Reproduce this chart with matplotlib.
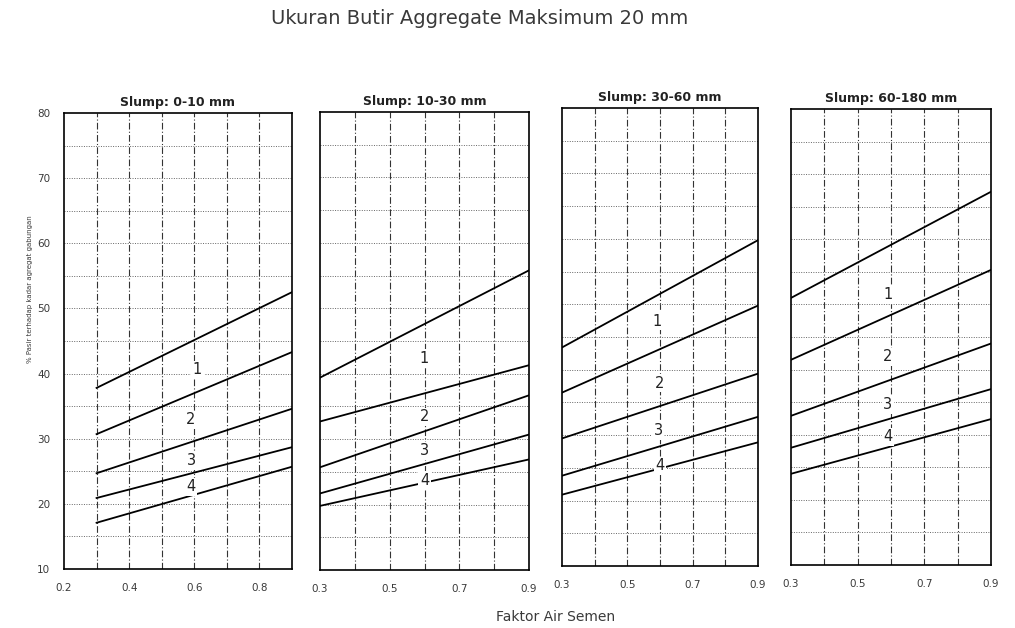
import matplotlib
matplotlib.use('Agg')
import matplotlib.pyplot as plt
import numpy as np

# panels: slump classes
titles = ['Slump: 0-10 mm', 'Slump: 10-30 mm', 'Slump: 30-60 mm', 'Slump: 60-180 mm']
x_min = [0.2, 0.3, 0.3, 0.3]
x_ticks = [[0.2, 0.4, 0.6, 0.8], [0.3, 0.5, 0.7, 0.9], [0.3, 0.5, 0.7, 0.9], [0.3, 0.5, 0.7, 0.9]]

# curves go from w/c = 0.3 to w/c = 0.9
fas = [0.3, 0.9]

# % sand at fas 0.3 and 0.9, five boundary curves per panel (top to bottom)
p1 = [[37.8, 52.5], [30.7, 43.3], [24.7, 34.6], [20.9, 28.7], [17.1, 25.7]]
p2 = [[39.4, 55.8], [32.7, 41.3], [25.7, 36.7], [21.7, 30.7], [19.8, 26.9]]
p3 = [[43.4, 59.8], [36.5, 49.8], [29.5, 39.4], [23.8, 32.8], [20.9, 28.9]]
p4 = [[51.0, 67.3], [41.5, 55.3], [32.9, 44.0], [28.0, 37.0], [24.0, 32.4]]
curves = [p1, p2, p3, p4]

# zone numbers (x, y)
zone_names = ['1', '2', '3', '4']
zones1 = [(0.61, 40.6), (0.59, 32.9), (0.59, 26.6), (0.59, 22.6)]
zones2 = [(0.60, 42.4), (0.60, 33.4), (0.60, 28.2), (0.60, 23.7)]
zones3 = [(0.59, 47.4), (0.60, 37.9), (0.595, 30.7), (0.60, 25.3)]
zones4 = [(0.59, 51.5), (0.59, 42.0), (0.59, 34.6), (0.59, 29.7)]
zones = [zones1, zones2, zones3, zones4]

rects = [
    [64 / 1015, 59 / 628, 228 / 1015, 456 / 628],
    [320 / 1015, 58 / 628, 209 / 1015, 458 / 628],
    [562 / 1015, 62 / 628, 196 / 1015, 458 / 628],
    [791 / 1015, 63 / 628, 200 / 1015, 456 / 628],
]

fig = plt.figure(figsize=(10.15, 6.28), dpi=100)
txt = '#3a3a3a'

for i in range(4):
    ax = fig.add_axes(rects[i])
    ax.set_xlim(x_min[i], 0.9)
    ax.set_ylim(10, 80)

    # grid: dash-dot verticals every 0.1, dotted horizontals every 5
    xv = np.arange(x_min[i] + 0.1, 0.85, 0.1)
    for xx in xv:
        ax.axvline(xx, color='#333333', lw=0.8, ls=(0, (6, 2, 1, 2)), zorder=1)
    for yy in range(15, 80, 5):
        ax.axhline(yy, color='#666666', lw=0.7, ls=(0, (1, 1.5)), zorder=1)

    for c in curves[i]:
        ax.plot(fas, c, color='black', lw=1.3, zorder=3)

    for name, (zx, zy) in zip(zone_names, zones[i]):
        ax.text(zx, zy, name, ha='center', va='center', fontsize=10.5, color='#222222',
                zorder=4, bbox=dict(facecolor='white', edgecolor='none', pad=1.0))

    ax.set_xticks(x_ticks[i])
    ax.set_xticklabels([f'{t:.1f}' for t in x_ticks[i]])
    if i == 0:
        ax.set_yticks(range(10, 81, 10))
    else:
        ax.set_yticks([])
    ax.tick_params(length=0, pad=10, labelsize=7.5, labelcolor=txt)
    for s in ax.spines.values():
        s.set_linewidth(1.2)
        s.set_color('black')
    ax.set_title(titles[i], fontsize=9, fontweight='bold', color='#222222', pad=5)

fig.text(0.03, 0.54, '% Pasir terhadap kadar agregat gabungan', rotation=90,
         ha='center', va='center', fontsize=5, color=txt)
fig.text(0.473, 0.97, 'Ukuran Butir Aggregate Maksimum 20 mm', ha='center', va='center',
         fontsize=14, color=txt)
fig.text(0.547, 0.017, 'Faktor Air Semen', ha='center', va='center', fontsize=10, color=txt)

fig.savefig('out.png', dpi=100, facecolor='white')
